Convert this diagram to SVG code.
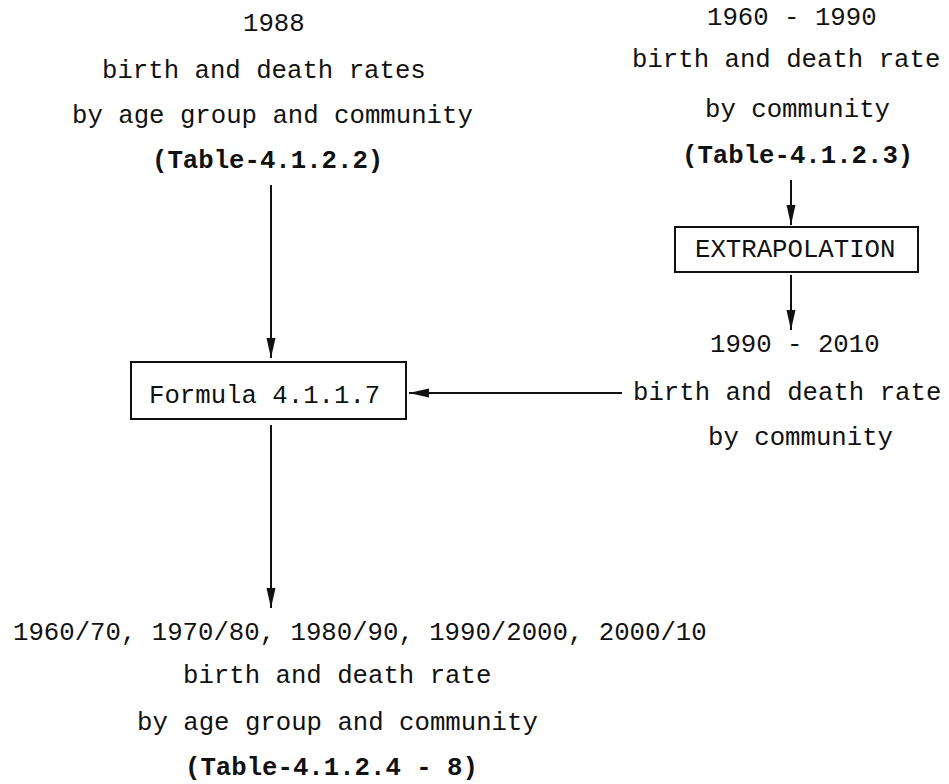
<svg xmlns="http://www.w3.org/2000/svg" width="949" height="784" viewBox="0 0 949 784">
<style>
text{font-family:"Liberation Mono","DejaVu Sans Mono",monospace;font-size:25.7px;fill:#111}
.b{font-weight:bold}
.box{fill:none;stroke:#111;stroke-width:2}
.c{stroke:#111;stroke-width:2;fill:none}
</style>
<defs>
<marker id="ah" markerUnits="userSpaceOnUse" markerWidth="22" markerHeight="10" refX="20" refY="5" orient="auto">
<path d="M0,0.5 L20,5 L0,9.5 Z" fill="#111"/>
</marker>
</defs>
<rect width="949" height="784" fill="#fff"/>
<g id="src1988">
<text x="243" y="31">1988</text>
<text x="102" y="78">birth and death rates</text>
<text x="72" y="123">by age group and community</text>
<text x="152" y="168" class="b">(Table-4.1.2.2)</text>
</g>
<g id="src1960">
<text x="707" y="25">1960 - 1990</text>
<text x="632" y="67">birth and death rate</text>
<text x="705" y="117">by community</text>
<text x="682" y="163" class="b">(Table-4.1.2.3)</text>
</g>
<g id="extrapolation">
<rect class="box" x="675" y="227" width="243" height="45"/>
<text x="695" y="257">EXTRAPOLATION</text>
</g>
<g id="proj1990">
<text x="710" y="352">1990 - 2010</text>
<text x="633" y="400">birth and death rate</text>
<text x="708" y="445">by community</text>
</g>
<g id="formula">
<rect class="box" x="131" y="362" width="275" height="57"/>
<text x="149" y="403">Formula 4.1.1.7</text>
</g>
<g id="result">
<text x="13" y="640">1960/70, 1970/80, 1980/90, 1990/2000, 2000/10</text>
<text x="183" y="683">birth and death rate</text>
<text x="137" y="730">by age group and community</text>
<text x="185" y="775" class="b">(Table-4.1.2.4 - 8)</text>
</g>
<g id="connectors">
<line class="c" x1="271" y1="185" x2="271" y2="358" marker-end="url(#ah)"/>
<line class="c" x1="271" y1="425" x2="271" y2="608" marker-end="url(#ah)"/>
<line class="c" x1="791" y1="180" x2="791" y2="225" marker-end="url(#ah)"/>
<line class="c" x1="791" y1="275" x2="791" y2="330" marker-end="url(#ah)"/>
<line class="c" x1="622" y1="393" x2="409" y2="393" marker-end="url(#ah)"/>
</g>
</svg>
